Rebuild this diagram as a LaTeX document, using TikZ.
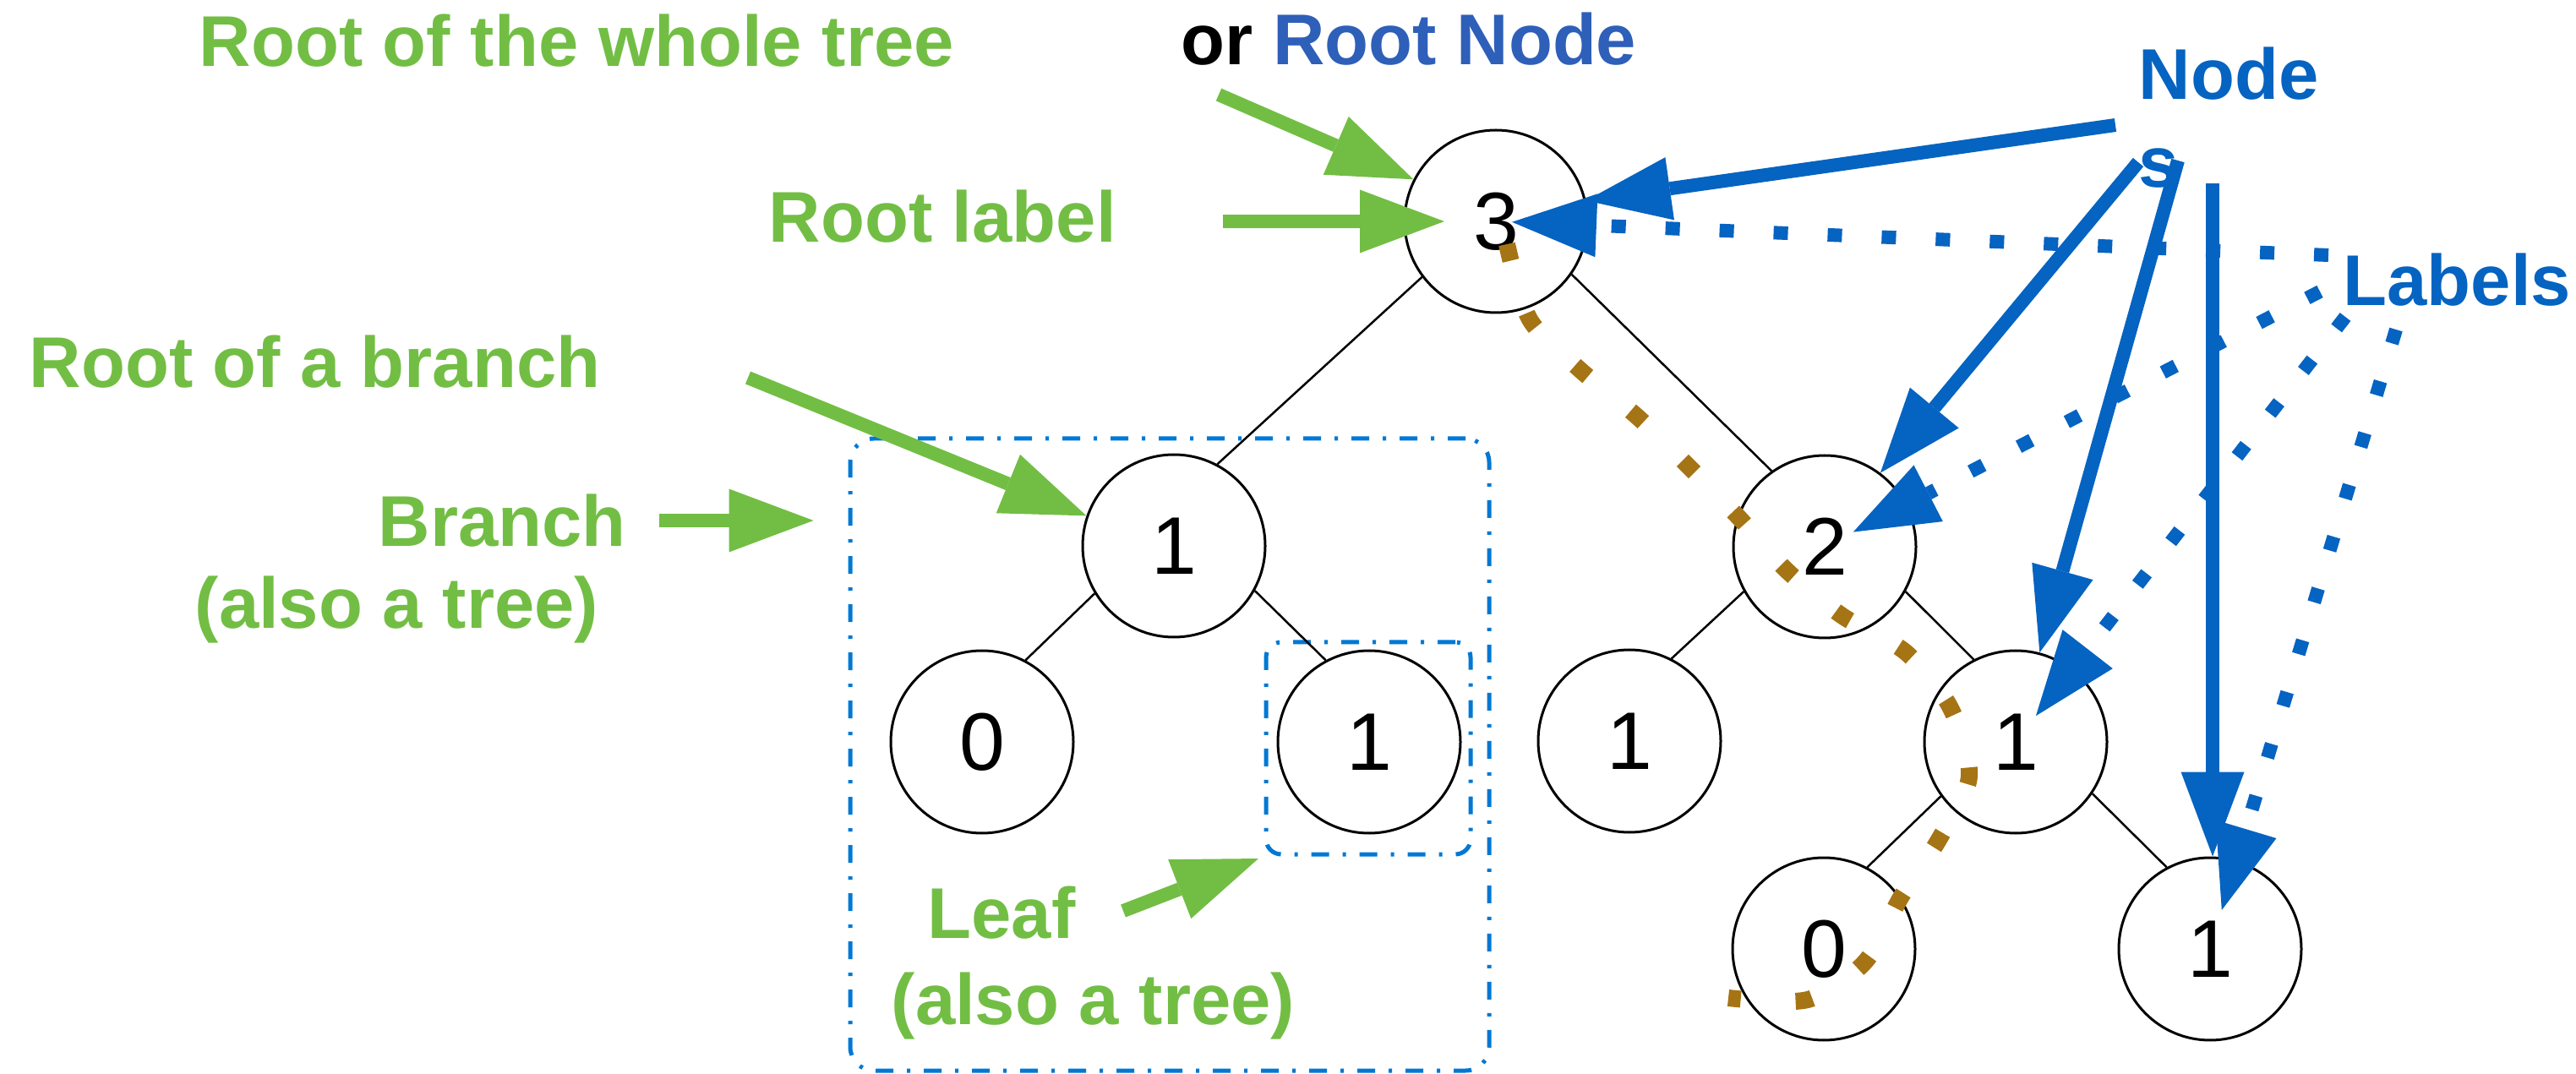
\documentclass[tikz,border=0pt]{standalone}
\usepackage{fontspec}
\setmainfont{Liberation Sans}
\usetikzlibrary{arrows.meta, calc}

\definecolor{labelgreen}{RGB}{114,190,68}
\definecolor{arrowblue}{RGB}{5,99,193}
\definecolor{rootblue}{RGB}{46,95,185}
\definecolor{boxblue}{RGB}{0,120,212}
\definecolor{pathbrown}{RGB}{165,116,20}

\def\headlen{1cm}
\def\headwid{0.75cm}
\def\captionfont{\fontsize{24.2}{29.6}\selectfont\bfseries}
\def\numberfont{\fontsize{27.5}{33}\selectfont}
\def\arrowwidth{0.16cm}

\tikzset{
% Tree node
tree_node/.style={
	circle, draw, line width=0.03cm,
	minimum size=2.16cm, inner sep=0pt,
	font=\numberfont,
	},
% Tree edge
tree_edge/.style={
	line width=0.025cm,
	},
% Box round a sub-tree
sub_box/.style={
	draw=boxblue, line width=0.05cm,
	dash pattern=on 0.21cm off 0.16cm on 0.04cm off 0.16cm,
	inner sep=0pt,
	},
% Caption
gcaption/.style={
	text=labelgreen, font=\captionfont,
	anchor=base west, inner sep=0pt,
	},
% Green pointer
green_arrow/.style={
	draw=labelgreen, line width=\arrowwidth,
	-{Triangle[length=\headlen, width=\headwid, line width=0pt]},
	},
% Pointer to a node
node_arrow/.style={
	draw=arrowblue, line width=\arrowwidth,
	-{Triangle[length=\headlen, width=\headwid, line width=0pt]},
	},
% Pointer to a label
label_arrow/.style={
	node_arrow,
	dash pattern=on 0.17cm off 0.47cm,
	},
% Path through the labels
label_path/.style={
	draw=pathbrown, line width=0.2cm,
	dash pattern=on 0.2cm off 0.65cm,
	},
}

\begin{document}
\begin{tikzpicture}
		\useasboundingbox (0,0) rectangle (30.48,-12.71);

		% Sub-tree boxes
		\node[sub_box, rounded corners=0.28cm, minimum width=7.56cm, minimum height=7.48cm]
			 (branch_box) at (13.84,-8.93) {};
		\node[sub_box, rounded corners=0.18cm, minimum width=2.42cm, minimum height=2.51cm]
			 (leaf_box) at (16.19,-8.855) {};

		% Tree
		\node[tree_node] (root) at (17.70,-2.62) {3};
		\node[tree_node] (branch_root) at (13.89,-6.46) {1};
		\node[tree_node] (branch_left) at (11.62,-8.78) {0};
		\node[tree_node] (leaf) at (16.20,-8.78) {1};
		\node[tree_node] (right_root) at (21.59,-6.47) {2};
		\node[tree_node] (right_left) at (19.28,-8.77) {1};
		\node[tree_node] (right_right) at (23.85,-8.78) {1};
		\node[tree_node] (bottom_left) at (21.58,-11.23) {0};
		\node[tree_node] (bottom_right) at (26.15,-11.23) {1};

		\draw[tree_edge] (root.217) -- (branch_root.62);
		\draw[tree_edge] (root.-35) -- (right_root.125);
		\draw[tree_edge] (branch_root.211) -- (branch_left.62);
		\draw[tree_edge] (branch_root.-29) -- (leaf.118);
		\draw[tree_edge] (right_root.209) -- (right_left.63);
		\draw[tree_edge] (right_root.-29) -- (right_right.117);
		\draw[tree_edge] (right_right.216) -- (bottom_left.62);
		\draw[tree_edge] (right_right.-34) -- (bottom_right.118);

		% Path from the root label down to a leaf
		\draw[label_path] plot[smooth] coordinates {
			(17.83,-2.89) (18.10,-3.78) (18.70,-4.38) (19.36,-4.92)
			(19.97,-5.51) (20.57,-6.12) (21.14,-6.75) (21.80,-7.29)
			(22.55,-7.72) (23.08,-8.38) (23.30,-9.19) (22.95,-9.92)
			(22.49,-10.62) (22.07,-11.38) (21.39,-11.83) (20.45,-11.81)};

		% Captions
		\node[gcaption] (whole_caption) at (2.35,-0.79) {Root of the whole tree};
		\node[gcaption, text=black] (rootnode_caption) at (13.97,-0.77) {or \textcolor{rootblue}{Root Node}};
		\node[gcaption] (rootlabel_caption) at (9.09,-2.87) {Root label};
		\node[gcaption] (branchroot_caption) at (0.34,-4.59) {Root of a branch};
		\node[gcaption] (branch_caption) at (4.47,-6.47) {Branch};
		\node[gcaption] (branch_also) at (2.30,-7.44) {(also a tree)};
		\node[gcaption] (leaf_caption) at (10.97,-11.10) {Leaf};
		\node[gcaption] (leaf_also) at (10.54,-12.12) {(also a tree)};
		\node[gcaption, text=arrowblue, align=left] (nodes_caption) at (25.30,-2.22) {Node\\s};
		\node[gcaption, text=arrowblue] (labels_caption) at (27.72,-3.62) {Labels};

		% Arrow tails
		\coordinate (whole_tail) at (14.42,-1.12);
		\coordinate (rootlabel_tail) at (14.47,-2.62);
		\coordinate (branchroot_tail) at (8.85,-4.47);
		\coordinate (branch_tail) at (7.80,-6.16);
		\coordinate (leaf_tail) at (13.29,-10.78);
		%
		\coordinate (nodes_a) at (25.03,-1.48);
		\coordinate (nodes_b) at (25.30,-1.92);
		\coordinate (nodes_c) at (25.77,-1.90);
		\coordinate (nodes_d) at (26.18,-2.17);
		%
		\coordinate (labels_a) at (27.55,-3.02);
		\coordinate (labels_b) at (27.45,-3.45);
		\coordinate (labels_c) at (27.75,-3.75);
		\coordinate (labels_d) at (28.35,-3.90);

		% Green pointers
		\draw[green_arrow] (whole_tail) -- (root.153);
		\draw[green_arrow, shorten >=0.61cm] (rootlabel_tail) -- (root.center);
		\draw[green_arrow] (branchroot_tail) -- (branch_root.161);
		\draw[green_arrow, shorten >=0.41cm] (branch_tail) -- (branch_tail -| branch_box.west);
		\draw[green_arrow, shorten >=0.07cm] (leaf_tail) -- (leaf_box.south west);

		% Nodes
		\draw[node_arrow] (nodes_a) -- (root.13);
		\draw[node_arrow] (nodes_b) -- (right_root.53);
		\draw[node_arrow] (nodes_c) -- (right_right.75);
		\draw[node_arrow] (nodes_d) -- (nodes_d |- bottom_right.north);

		% Labels
		\draw[label_arrow, shorten >=0.19cm] (labels_a) -- (root.center);
		\draw[label_arrow, shorten >=0.38cm] (labels_b) -- (right_root.center);
		\draw[label_arrow, shorten >=0.39cm] (labels_c) -- (right_right.center);
		\draw[label_arrow, shorten >=0.48cm] (labels_d) -- (bottom_right.center);
	\end{tikzpicture}
\end{document}
